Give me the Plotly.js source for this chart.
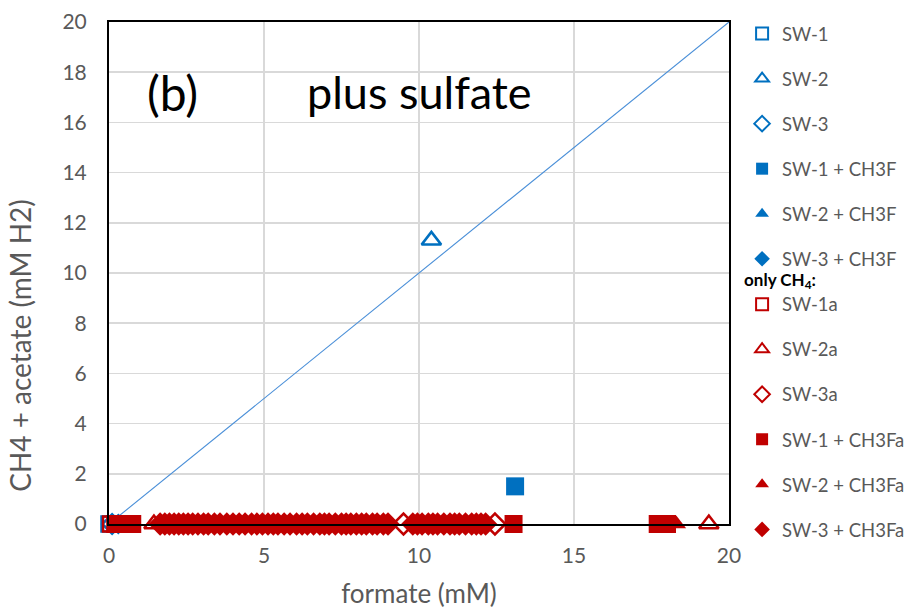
<!DOCTYPE html>
<html>
<head>
<meta charset="utf-8">
<script src="https://cdn.plot.ly/plotly-3.0.1.min.js"></script>
<style>
  html, body { margin: 0; padding: 0; background: #fff; }
  #chart { width: 923px; height: 610px; }
</style>
</head>
<body>
<div id="chart"></div>
<script>
// Formate (x, mM) versus CH4 + acetate (y, mM H2), incubations with sulfate.
const sw1_x = [0.0];            const sw1_y = [0.0];
const sw2_x = [10.4];           const sw2_y = [11.3];
const sw3_x = [0.1];            const sw3_y = [0.0];
const sw1f_x = [13.1];          const sw1f_y = [1.5];
const sw2f_x = [0.2];           const sw2f_y = [0.0];
const sw3f_x = [0.3];           const sw3f_y = [0.0];

// only CH4
const sw1a_x = [0.05, 0.35, 0.65];       const sw1a_y = [0, 0, 0];
const sw2a_x = [1.45, 19.35];            const sw2a_y = [0, 0];
const sw3a_x = [9.5, 12.45];             const sw3a_y = [0, 0];
const sw1fa_x = [-0.1, 0.2, 0.5, 0.75, 13.05, 17.7, 18.0];
const sw1fa_y = [0, 0, 0, 0, 0, 0, 0];
const sw2fa_x = [18.3];                  const sw2fa_y = [0];
const sw3fa_x = [1.65, 1.8, 1.95, 2.1, 2.25, 2.4, 2.55, 2.7, 2.87, 3.05, 3.2, 3.4,
                 3.58, 3.8, 4.0, 4.2, 4.39, 4.6, 4.77, 4.95, 5.13, 5.3, 5.45, 5.65,
                 5.84, 6.05, 6.23, 6.4, 6.6, 6.8, 6.95, 7.1, 7.3, 7.5, 7.65, 7.8,
                 7.98, 8.15, 8.3, 8.5, 8.65, 8.85, 9.0,
                 9.8, 9.95, 10.1, 10.3, 10.45, 10.6, 10.8, 11.0, 11.15, 11.3, 11.5,
                 11.7, 11.85, 12.0, 12.15];
const sw3fa_y = sw3fa_x.map(() => 0);

// 1:1 reference line
const line_x = [0, 20];
const line_y = [0, 20];

const BLUE = '#0070c0';
const RED = '#c00000';

function series(name, x, y, symbol, color, size, open, legendId) {
  return {
    type: 'scatter', mode: 'markers', name: name, x: x, y: y,
    legendgroup: name, legend: legendId, cliponaxis: false,
    marker: {
      symbol: symbol, size: size, color: color,
      line: { color: color, width: open ? 2.5 : 0 }
    }
  };
}

const traces = [
  { type: 'scatter', mode: 'lines', x: line_x, y: line_y, showlegend: false,
    hoverinfo: 'skip', line: { color: '#4a8fd8', width: 1.1 } },
  series('SW-1', sw1_x, sw1_y, 'square-open', BLUE, 15, true, 'legend'),
  series('SW-2', sw2_x, sw2_y, 'triangle-up-open', BLUE, 17, true, 'legend'),
  series('SW-3', sw3_x, sw3_y, 'diamond-open', BLUE, 15, true, 'legend'),
  series('SW-1 + CH3F', sw1f_x, sw1f_y, 'square', BLUE, 18, false, 'legend'),
  series('SW-2 + CH3F', sw2f_x, sw2f_y, 'triangle-up', BLUE, 17, false, 'legend'),
  series('SW-3 + CH3F', sw3f_x, sw3f_y, 'diamond', BLUE, 16, false, 'legend'),
  series('SW-1a', sw1a_x, sw1a_y, 'square-open', RED, 15, true, 'legend2'),
  series('SW-2a', sw2a_x, sw2a_y, 'triangle-up-open', RED, 17, true, 'legend2'),
  series('SW-3a', sw3a_x, sw3a_y, 'diamond-open', RED, 16, true, 'legend2'),
  series('SW-1 + CH3Fa', sw1fa_x, sw1fa_y, 'square', RED, 18, false, 'legend2'),
  series('SW-2 + CH3Fa', sw2fa_x, sw2fa_y, 'triangle-up', RED, 17, false, 'legend2'),
  series('SW-3 + CH3Fa', sw3fa_x, sw3fa_y, 'diamond', RED, 18, false, 'legend2')
];

const FONT = 'Lato, "Open Sans", sans-serif';
const GREY = '#595959';

const legendCommon = {
  xref: 'container', yref: 'container',
  x: 0.804, xanchor: 'left', yanchor: 'top',
  traceorder: 'grouped', tracegroupgap: 18,
  font: { family: FONT, size: 18.5, color: GREY },
  itemsizing: 'constant', bgcolor: 'rgba(0,0,0,0)'
};

const layout = {
  width: 923, height: 610,
  margin: { l: 109, r: 194, t: 22, b: 86, autoexpand: false },
  paper_bgcolor: '#fff', plot_bgcolor: '#fff',
  font: { family: FONT, color: GREY, size: 18 },
  showlegend: true,
  xaxis: {
    range: [0, 20], dtick: 5, tick0: 0,
    showgrid: true, gridcolor: '#d9d9d9', gridwidth: 1.5,
    zeroline: false, showline: true, linecolor: '#000', linewidth: 2, mirror: true,
    ticks: '', ticklabelstandoff: 12,
    tickfont: { family: FONT, size: 21, color: GREY },
    title: { text: 'formate (mM)', font: { family: FONT, size: 26, color: GREY }, standoff: 19 }
  },
  yaxis: {
    range: [0, 20], dtick: 2, tick0: 0,
    showgrid: true, gridcolor: '#d9d9d9', gridwidth: 1.5,
    zeroline: false, showline: true, linecolor: '#000', linewidth: 2, mirror: true,
    ticks: '', ticklabelstandoff: 16,
    tickfont: { family: FONT, size: 21, color: GREY }
  },
  legend: Object.assign({}, legendCommon, { y: 0.9754 }),
  legend2: Object.assign({}, legendCommon, {
    y: 0.568,
    title: { text: '<b>only CH<sub>4</sub>:</b>', side: 'top',
             font: { family: FONT, size: 17, color: '#000' } }
  }),
  annotations: [
    // vertical axis title, placed as in the original figure
    { xref: 'paper', yref: 'paper', x: -0.1435, y: 0.355, xanchor: 'center', yanchor: 'middle',
      textangle: -90, text: 'CH4 + acetate (mM H2)', showarrow: false,
      font: { family: FONT, size: 28, color: GREY } },
    { xref: 'paper', yref: 'paper', x: 0.058, y: 0.86, xanchor: 'left', yanchor: 'middle',
      text: '(b)', showarrow: false, font: { family: FONT, size: 48, color: '#000' } },
    { xref: 'paper', yref: 'paper', x: 0.316, y: 0.86, xanchor: 'left', yanchor: 'middle',
      text: 'plus sulfate', showarrow: false, font: { family: FONT, size: 45, color: '#000' } }
  ]
};

Plotly.newPlot('chart', traces, layout, { displayModeBar: false, staticPlot: true });
</script>
</body>
</html>
